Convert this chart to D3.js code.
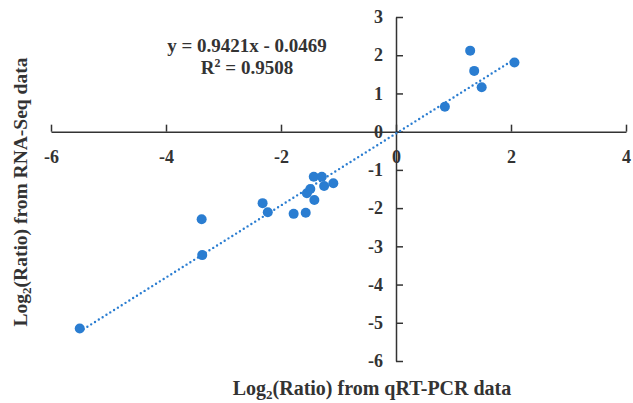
<!DOCTYPE html>
<html>
<head>
<meta charset="utf-8">
<script src="https://cdn.jsdelivr.net/npm/d3@7"></script>
<style>
  body { margin: 0; background: #fff; }
  text { font-family: "Liberation Serif", "Times New Roman", serif; font-weight: bold; fill: #333; }
</style>
</head>
<body>
<div id="chart"></div>
<script>
const width = 633;
const height = 403;

// qRT-PCR log2 ratios vs RNA-Seq log2 ratios
const qpcr = [1.29, 2.06, 1.36, 1.49, 0.85, -3.38, -2.32, -2.23, -1.78, -1.57, -1.55, -1.49, -1.42, -1.43, -1.29, -1.25, -1.09, -3.37, -5.50];
const rnaseq = [2.12, 1.81, 1.59, 1.16, 0.65, -2.29, -1.87, -2.11, -2.15, -2.12, -1.61, -1.50, -1.79, -1.18, -1.18, -1.42, -1.35, -3.23, -5.15];
const xTicks = [-6, -4, -2, 0, 2, 4];
const yTicks = [-6, -5, -4, -3, -2, -1, 0, 1, 2, 3];
const slope = 0.9421;
const intercept = -0.0469;
const eqLines = ["y = 0.9421x - 0.0469", "R² = 0.9508"];

const svg = d3.select("#chart")
    .append("svg")
    .attr("width", width)
    .attr("height", height);

const x = d3.scaleLinear().domain([-6, 4]).range([51, 626]);
const y = d3.scaleLinear().domain([-6, 3]).range([361, 17]);

const blue = "#2a7dd1";
const fmt = d => String(d); // plain hyphen minus like the original

// x axis through y = 0, ticks pointing up, labels below
const xAxis = svg.append("g")
    .attr("transform", `translate(0,${y(0)})`)
    .call(d3.axisBottom(x).tickValues(xTicks).tickFormat(fmt).tickSizeInner(-7).tickSizeOuter(0).tickPadding(19));

// y axis through x = 0, ticks pointing right, labels left
const yAxis = svg.append("g")
    .attr("transform", `translate(${x(0)},0)`)
    .call(d3.axisLeft(y).tickValues(yTicks).tickFormat(fmt).tickSizeInner(-7).tickSizeOuter(0).tickPadding(13));

[xAxis, yAxis].forEach(g => {
    g.selectAll("path, line").attr("stroke", "#333").attr("stroke-width", 1.5);
    g.selectAll("text")
        .style("font-family", "'Liberation Serif', serif")
        .style("font-weight", "bold")
        .style("font-size", "18px")
        .attr("fill", "#333");
});

// trend line over the data range
const xr = d3.extent(qpcr);
svg.append("line")
    .attr("x1", x(xr[0])).attr("y1", y(slope * xr[0] + intercept))
    .attr("x2", x(xr[1])).attr("y2", y(slope * xr[1] + intercept))
    .attr("stroke", blue)
    .attr("stroke-width", 2.4)
    .attr("stroke-linecap", "round")
    .attr("stroke-dasharray", "0,4.5");

// points
svg.append("g").selectAll("circle")
    .data(qpcr)
    .join("circle")
    .attr("cx", d => x(d))
    .attr("cy", (d, i) => y(rnaseq[i]))
    .attr("r", 5)
    .attr("fill", blue);

// equation
svg.append("text")
    .attr("x", 247).attr("y", 52)
    .attr("text-anchor", "middle")
    .style("font-size", "19px")
    .text(eqLines[0]);
const r2 = svg.append("text")
    .attr("x", 247).attr("y", 74)
    .attr("text-anchor", "middle")
    .style("font-size", "19px");
r2.append("tspan").text("R");
r2.append("tspan").attr("dy", -7).style("font-size", "12px").text("2");
r2.append("tspan").attr("dy", 7).text(" = 0.9508");

// axis titles
const xt = svg.append("text")
    .attr("x", 372).attr("y", 395)
    .attr("text-anchor", "middle")
    .style("font-size", "20px");
xt.append("tspan").text("Log");
xt.append("tspan").attr("dy", 4).style("font-size", "13px").text("2");
xt.append("tspan").attr("dy", -4).text("(Ratio) from qRT-PCR data");

const yt = svg.append("text")
    .attr("transform", "translate(27,192) rotate(-90)")
    .attr("text-anchor", "middle")
    .style("font-size", "19.5px");
yt.append("tspan").text("Log");
yt.append("tspan").attr("dy", 4).style("font-size", "13px").text("2");
yt.append("tspan").attr("dy", -4).text("(Ratio) from RNA-Seq data");
</script>
</body>
</html>
